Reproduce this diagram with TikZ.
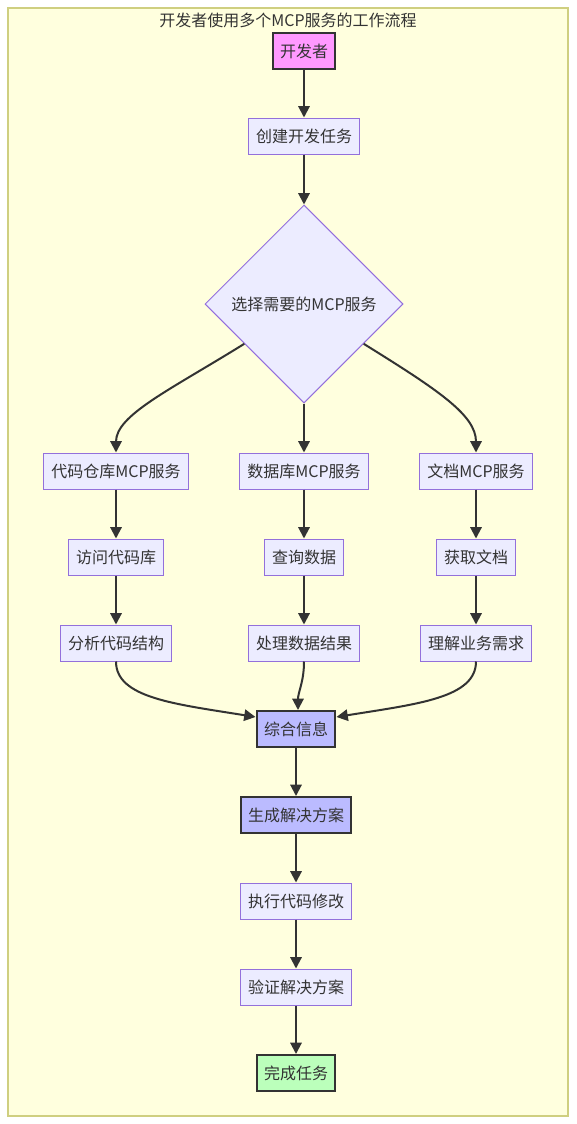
\documentclass[tikz,border=0pt]{standalone}
\usepackage{fontspec}
\setmainfont{Noto Sans CJK SC}
\usepackage{xcolor}
\usepackage{tikz}
\usetikzlibrary{calc,arrows.meta,shapes.geometric}
\definecolor{clusterfill}{HTML}{FFFFDE}
\definecolor{clusterline}{HTML}{CFCF80}
\definecolor{nodefill}{HTML}{ECECFF}
\definecolor{nodeline}{HTML}{9370DB}
\definecolor{darkline}{HTML}{333333}
\definecolor{pinkfill}{HTML}{FF99FF}
\definecolor{bluefill}{HTML}{BBBBFF}
\definecolor{greenfill}{HTML}{BBFFBB}

\begin{document}
\begin{tikzpicture}[x=0.75pt,y=-0.75pt,
	box/.style={draw=nodeline,fill=nodefill,line width=0.75pt,minimum height=27pt,inner xsep=5.6pt,inner ysep=0pt,text=darkline,font=\fontsize{12}{14}\selectfont},
	keybox/.style={box,draw=darkline,line width=1.5pt},
	flow/.style={draw=darkline,line width=1.5pt,-{Triangle[length=8.5pt,width=8.5pt]}}]
	\useasboundingbox (0,0) rectangle (576,1124);
	\draw[draw=clusterline,fill=clusterfill,line width=1pt] (8,8) rectangle (568,1116);
	\node[text=darkline,font=\fontsize{12}{14}\selectfont] (title) at (288,20) {开发者使用多个MCP服务的工作流程};
	% start
	\node[keybox,fill=pinkfill] (dev) at (304,51) {开发者};
	\node[box] (create) at (304,136) {创建开发任务};
	\node[diamond,draw=nodeline,fill=nodefill,line width=0.75pt,inner sep=0pt,minimum width=148.5pt,minimum height=148.5pt,text=darkline,font=\fontsize{12}{14}\selectfont] (choose) at (304,304) {选择需要的MCP服务};
	% three services
	\node[box] (repo) at (116,471) {代码仓库MCP服务};
	\node[box] (db) at (304,471) {数据库MCP服务};
	\node[box] (doc) at (476,471) {文档MCP服务};
	\node[box] (visit) at (116,557) {访问代码库};
	\node[box] (query) at (304,557) {查询数据};
	\node[box] (fetch) at (476,557) {获取文档};
	\node[box] (analyse) at (116,643) {分析代码结构};
	\node[box] (process) at (304,643) {处理数据结果};
	\node[box] (understand) at (476,643) {理解业务需求};
	% merge and finish
	\node[keybox,fill=bluefill] (merge) at (296,729) {综合信息};
	\node[keybox,fill=bluefill] (plan) at (296,815) {生成解决方案};
	\node[box] (exec) at (296,901) {执行代码修改};
	\node[box] (verify) at (296,987) {验证解决方案};
	\node[keybox,fill=greenfill] (done) at (296,1073) {完成任务};
	% connectors
	\draw[flow] (dev) -- (create);
	\draw[flow] (create) -- (choose);
	\draw[flow] ($(choose.west)!0.4!(choose.south)$) .. controls (170,390) and (116,415) .. (repo.north);
	\draw[flow] (choose.south) -- (db.north);
	\draw[flow] ($(choose.east)!0.4!(choose.south)$) .. controls (438,390) and (476,415) .. (doc.north);
	\foreach \a/\b in {repo/visit,visit/analyse,db/query,query/process,doc/fetch,fetch/understand,merge/plan,plan/exec,exec/verify,verify/done}
	\draw[flow] (\a) -- (\b);
	\draw[flow] (analyse.south) .. controls (116,698) and (175,704) .. ($(merge.west)+(0,-12)$);
	\draw[flow] (process.south) .. controls (304,682) and (298,692) .. ($(merge.north)+(2,0)$);
	\draw[flow] (understand.south) .. controls (476,698) and (417,704) .. ($(merge.east)+(0,-12)$);
\end{tikzpicture}
\end{document}
